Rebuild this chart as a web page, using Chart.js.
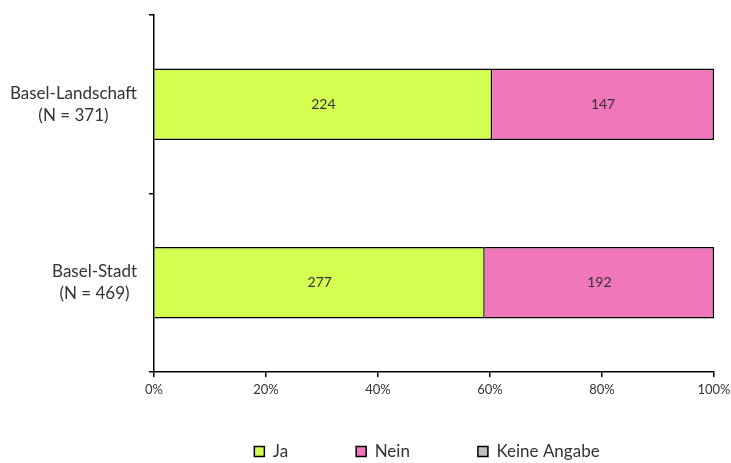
<!DOCTYPE html>
<html>
<head>
<meta charset="utf-8">
<script src="https://cdn.jsdelivr.net/npm/chart.js@4"></script>
<style>
  html, body { margin: 0; padding: 0; background: #fff; }
  #wrap { width: 731px; height: 463px; }
</style>
</head>
<body>
<div id="wrap"><canvas id="umfrageChart" width="731" height="463"></canvas></div>
<script>
const kantone = [['Basel-Landschaft', '(N = 371)'], ['Basel-Stadt', '(N = 469)']];
const totals = [371, 469];
const ja = [224, 277];
const nein = [147, 192];
const keineAngabe = [0, 0];
const xTicks = [0, 20, 40, 60, 80, 100];

const pct = (arr) => arr.map((v, i) => v / totals[i] * 100);
const schrift = 'Lato, "Open Sans", sans-serif';

// Zahlen in die Mitte der Balken schreiben
const balkenLabels = {
    id: 'balkenLabels',
    afterDatasetsDraw(chart) {
        const c = chart.ctx;
        c.save();
        c.font = '14px ' + schrift;
        c.fillStyle = '#333';
        c.textAlign = 'center';
        c.textBaseline = 'middle';
        chart.data.datasets.forEach((ds, di) => {
            const meta = chart.getDatasetMeta(di);
            meta.data.forEach((bar, i) => {
                const n = ds.counts[i];
                if (!n) return;
                c.fillText(String(n), (bar.x + bar.base) / 2, bar.y);
            });
        });
        c.restore();
    }
};

// Kategorien: Block rechtsbuendig, Zeilen zentriert
const kategorieLabels = {
    id: 'kategorieLabels',
    afterDraw(chart) {
        const c = chart.ctx;
        const y = chart.scales.y;
        c.save();
        c.font = '17px ' + schrift;
        c.fillStyle = '#333';
        c.textAlign = 'center';
        c.textBaseline = 'middle';
        chart.data.labels.forEach((zeilen, i) => {
            const w = Math.max(...zeilen.map(z => c.measureText(z).width));
            const mx = y.right - 17 - w / 2;
            const my = y.getPixelForTick(i);
            const lh = 22;
            zeilen.forEach((z, k) => {
                c.fillText(z, mx, my + (k - (zeilen.length - 1) / 2) * lh);
            });
        });
        c.restore();
    }
};

// Legende an die richtige Stelle schieben (padding 68 waere sonst zu hoch)
const legendeVerschieben = {
    id: 'legendeVerschieben',
    afterLayout(chart) {
        const lg = chart.legend;
        lg.left += 70;
        lg.right += 70;
        lg.top = 375;
        lg.bottom = 473;
    }
};

const ctx = document.getElementById('umfrageChart').getContext('2d');
const umfrageChart = new Chart(ctx, {
    type: 'bar',
    data: {
        labels: kantone,
        datasets: [
            { label: 'Ja', data: pct(ja), counts: ja, backgroundColor: '#d4ff50', borderColor: '#000', borderWidth: 1.5 },
            { label: 'Nein', data: pct(nein), counts: nein, backgroundColor: '#f077ba', borderColor: '#000', borderWidth: 1.5 },
            { label: 'Keine Angabe', data: pct(keineAngabe), counts: keineAngabe, backgroundColor: '#c0c0c0', borderColor: '#000', borderWidth: 1.5 }
        ]
    },
    options: {
        indexAxis: 'y',
        responsive: false,
        animation: false,
        layout: { padding: { top: 15, right: 17, left: 0, bottom: 0 } },
        datasets: { bar: { categoryPercentage: 1, barPercentage: 0.4 } },
        scales: {
            x: {
                stacked: true,
                min: 0,
                max: 100,
                afterBuildTicks: (axis) => { axis.ticks = xTicks.map(v => ({ value: v })); },
                afterFit: (axis) => { axis.height = 51; axis.paddingLeft = 0; axis.paddingRight = 0; },
                border: { color: '#000', width: 1.5 },
                grid: { drawOnChartArea: false, tickLength: 5, color: '#000', lineWidth: 1.5 },
                ticks: { color: '#333', font: { family: schrift, size: 13 }, padding: 5, callback: (v) => v + '%' }
            },
            y: {
                stacked: true,
                afterFit: (axis) => { axis.width = 154; axis.paddingTop = 0; axis.paddingBottom = 0; },
                border: { color: '#000', width: 1.5 },
                grid: { drawOnChartArea: false, tickLength: 5, color: '#000', lineWidth: 1.5, offset: true },
                ticks: { display: false }
            }
        },
        plugins: {
            legend: {
                display: true,
                position: 'bottom',
                maxHeight: 40,
                labels: {
                    boxWidth: 10,
                    boxHeight: 10,
                    padding: 68,
                    color: '#333',
                    font: { family: schrift, size: 17 }
                }
            },
            tooltip: { enabled: false }
        }
    },
    plugins: [balkenLabels, kategorieLabels, legendeVerschieben]
});
</script>
</body>
</html>
